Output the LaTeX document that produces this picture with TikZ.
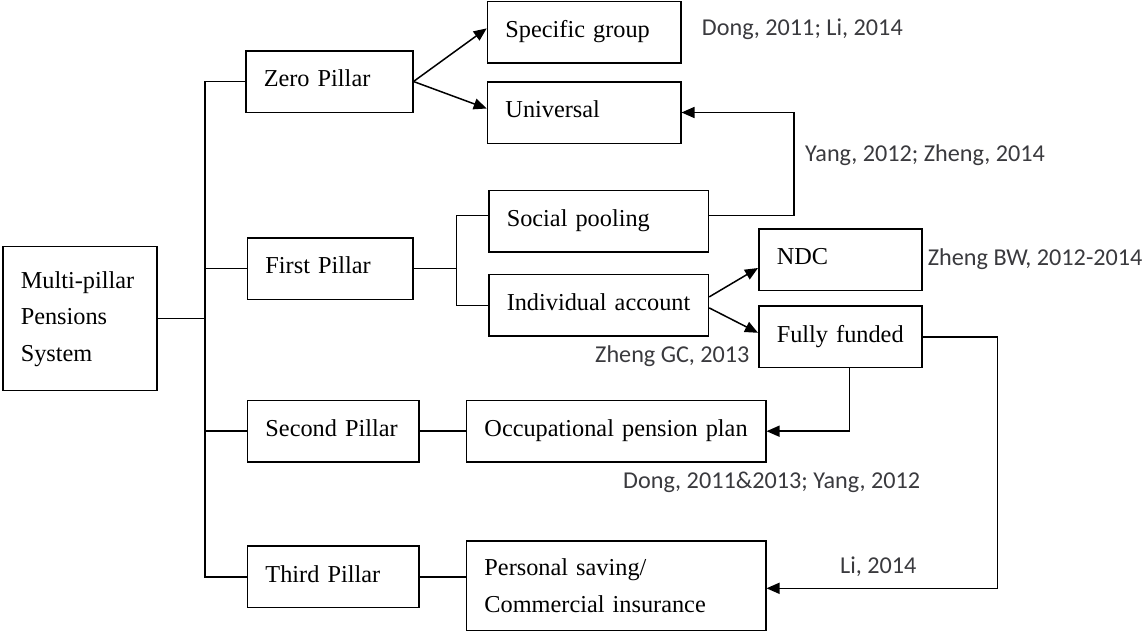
\documentclass[tikz,border=0pt]{standalone}
\usepackage{fontspec}
\usetikzlibrary{arrows.meta}
\newfontfamily\serifbox{Liberation Serif}
\newfontfamily\sansref{Carlito}
\newcommand{\pillarfont}{\serifbox\fontsize{24.3}{36.5}\selectfont}
\newcommand{\refsfont}{\sansref\fontsize{24.2}{29}\selectfont}
\definecolor{citegray}{RGB}{58,58,62}
\tikzset{
  box/.style={draw, line width=1.5pt, inner xsep=18pt, inner ysep=0pt, align=left, anchor=west, font=\pillarfont},
  single/.style={box, minimum height=61.5pt, text height=17pt, text depth=6.5pt},
  cite/.style={anchor=base west, inner sep=0pt, font=\refsfont, text=citegray},
  link/.style={line width=1.5pt},
  arr/.style={link, -{Triangle[length=13pt,width=11pt]}}
}
\begin{document}
\begin{tikzpicture}[x=1pt,y=-1pt]
\useasboundingbox (0,0) rectangle (1145,632);

\node[box, text width=118pt, minimum height=144pt] (multi) at (2,318.7) {Multi-pillar\\Pensions\\System};
\node[single, text width=131pt] (zero) at (245,81.5) {Zero Pillar};
\node[single, text width=129.6pt] (first) at (246.7,268.5) {First Pillar};
\node[single, text width=135.6pt] (second) at (246.7,431.2) {Second Pillar};
\node[single, text width=135.6pt] (third) at (246.7,576.8) {Third Pillar};

\node[single, text width=157.3pt] (specific) at (486.7,32.4) {Specific group};
\node[single, text width=157.3pt] (universal) at (486.7,112.5) {Universal};
\node[single, text width=183.7pt] (social) at (488,221.2) {Social pooling};
\node[single, text width=183.7pt] (individual) at (488,305.4) {Individual account};
\node[single, text width=127pt] (ndc) at (758,259.5) {NDC};
\node[single, text width=127pt] (funded) at (758,336.8) {Fully funded};
\node[single, text width=263.3pt] (occupational) at (465.7,431.2) {Occupational pension plan};
\node[box, text width=263.3pt, minimum height=89.5pt] (personal) at (465.7,585.8) {Personal saving/\\Commercial insurance};

\coordinate (trunk) at (205,0);
\coordinate (split) at (456.7,0);
\coordinate (bendA) at (794,0);
\coordinate (bendB) at (997.3,0);

\draw[link] (multi.east) -- (multi.east -| trunk);
\draw[link] (zero.west) -- (zero.west -| trunk) -- (third.west -| trunk) -- (third.west);
\draw[link] (first.west) -- (first.west -| trunk);
\draw[link] (second.west) -- (second.west -| trunk);

\draw[arr] (zero.east) -- ([yshift=4pt]specific.west);
\draw[arr] (zero.east) -- ([yshift=4pt]universal.west);

\draw[link] (first.east) -- (first.east -| split);
\draw[link] ([yshift=5.5pt]social.west) -| (individual.west -| split) -- (individual.west);
\draw[arr] ([yshift=5.5pt]social.east) -| (bendA |- universal.east) -- (universal.east);

\draw[arr] ([yshift=8.5pt]individual.east) -- ([yshift=-8.5pt]ndc.west);
\draw[arr] ([yshift=-2.5pt]individual.east) -- ([yshift=4pt]funded.west);

\draw[link] (second.east) -- (occupational.west);
\draw[link] (third.east) -- (third.east -| personal.west);
\draw[arr] ([xshift=9pt]funded.south) |- (occupational.east);
\draw[arr] (funded.east) -| ([yshift=-2.5pt]personal.east -| bendB) -- ([yshift=-2.5pt]personal.east);

\node[cite] (citezero) at (701.7,35) {Dong, 2011; Li, 2014};
\node[cite] (citesocial) at (805,161.7) {Yang, 2012; Zheng, 2014};
\node[cite] (citendc) at (927.7,265) {Zheng BW, 2012-2014};
\node[cite] (citefunded) at (595,362.7) {Zheng GC, 2013};
\node[cite] (citeoccup) at (623,488.3) {Dong, 2011\&2013; Yang, 2012};
\node[cite] (citepersonal) at (840,573.3) {Li, 2014};
\end{tikzpicture}
\end{document}
